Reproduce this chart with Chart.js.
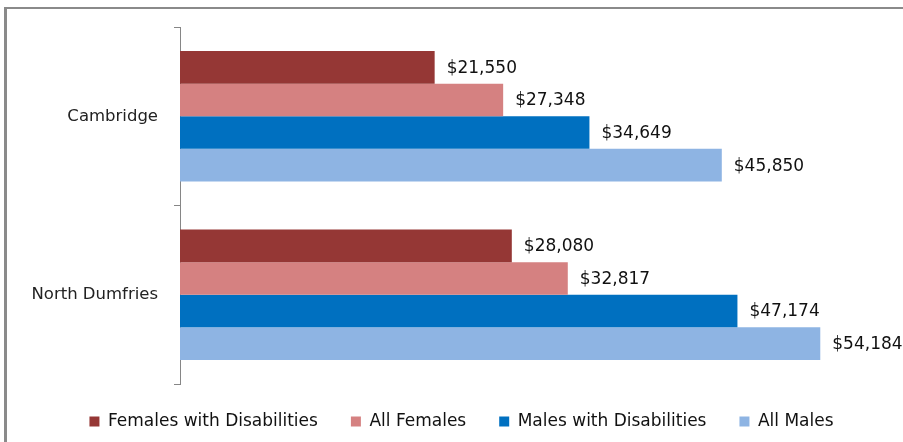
<!DOCTYPE html>
<html>
<head>
<meta charset="utf-8">
<script src="https://cdn.jsdelivr.net/npm/chart.js@4/dist/chart.umd.min.js"></script>
<style>
  html, body { margin: 0; padding: 0; background: #fff; }
  #wrap { position: relative; width: 903px; height: 442px; }
  #frame { position: absolute; left: 4px; top: 7px; right: -2px; bottom: -2px; border-top: 2px solid #8a8a8a; border-left: 3px solid #8a8a8a; pointer-events: none; }
  canvas { position: absolute; left: 0; top: 0; }
</style>
</head>
<body>
<div id="wrap">
  <canvas id="chart" width="903" height="442"></canvas>
  <div id="frame"></div>
</div>
<script>
const categories = ['Cambridge', 'North Dumfries'];
const seriesNames = ['Females with Disabilities', 'All Females', 'Males with Disabilities', 'All Males'];
const femalesDis = [21550, 28080];
const allFemales = [27348, 32817];
const malesDis = [34649, 47174];
const allMales = [45850, 54184];
const colors = ['#953735', '#D58181', '#0070C0', '#8EB4E3'];

const fontFam = "'DejaVu Sans', sans-serif";

// draws "$xx,xxx" next to each bar
const valueLabels = {
  id: 'valueLabels',
  afterDatasetsDraw(chart) {
    const ctx = chart.ctx;
    ctx.save();
    ctx.font = '17px ' + fontFam;
    ctx.fillStyle = '#111';
    ctx.textBaseline = 'middle';
    ctx.textAlign = 'left';
    chart.data.datasets.forEach((ds, i) => {
      chart.getDatasetMeta(i).data.forEach((bar, j) => {
        ctx.fillText('$' + ds.data[j].toLocaleString('en-US'), bar.x + 12, bar.y + 1);
      });
    });
    ctx.restore();
  }
};

// move the legend a bit up and to the right, like the original
const legendNudge = {
  id: 'legendNudge',
  afterLayout(chart) {
    chart.legend.top -= 4;
    chart.legend.bottom -= 4;
    chart.legend.left += 17;
    chart.legend.right += 17;
  }
};

const allSeries = [femalesDis, allFemales, malesDis, allMales];

new Chart(document.getElementById('chart'), {
  type: 'bar',
  data: {
    labels: categories,
    datasets: allSeries.map((d, i) => ({
      label: seriesNames[i],
      data: d,
      backgroundColor: colors[i],
      borderWidth: 0,
      categoryPercentage: 0.73,
      barPercentage: 1
    }))
  },
  options: {
    indexAxis: 'y',
    responsive: false,
    animation: false,
    layout: { padding: { top: 27, right: 14, bottom: -2, left: 0 } },
    scales: {
      x: { display: false, min: 0, max: 60000 },
      y: {
        afterFit: s => { s.width = 180; },
        grid: { display: true, drawOnChartArea: false, drawTicks: true, tickLength: 6, color: '#868686', offset: true },
        border: { display: true, color: '#868686', width: 1 },
        ticks: { color: '#222', padding: 16, font: { size: 16.5, family: fontFam } }
      }
    },
    plugins: {
      tooltip: { enabled: false },
      legend: {
        position: 'bottom',
        labels: {
          boxWidth: 10, boxHeight: 10, padding: 33,
          color: '#111', font: { size: 17, family: fontFam }
        }
      }
    }
  },
  plugins: [valueLabels, legendNudge]
});
</script>
</body>
</html>
